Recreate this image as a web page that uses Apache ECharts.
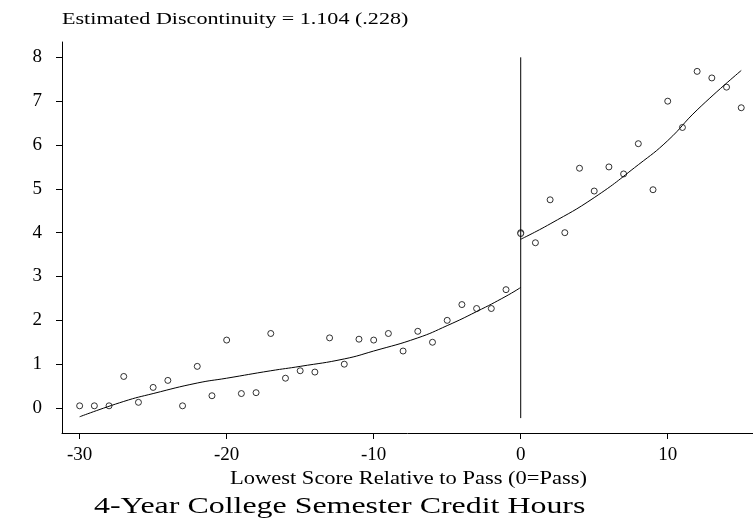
<!DOCTYPE html>
<html><head><meta charset="utf-8">
<script src="https://cdn.jsdelivr.net/npm/echarts@6/dist/echarts.min.js"></script>
<style>body{margin:0;background:#fff}#c{width:753px;height:521px}</style>
</head><body><div id="c"></div>
<script>
var xs = [-30,-29,-28,-27,-26,-25,-24,-23,-22,-21,-20,-19,-18,-17,-16,-15,-14,-13,-12,-11,-10,-9,-8,-7,-6,-5,-4,-3,-2,-1,0,0,1,2,3,4,5,6,7,8,9,10,11,12,13,14,15];
var ys = [0.05,0.05,0.05,0.72,0.13,0.47,0.63,0.05,0.95,0.28,1.55,0.33,0.35,1.7,0.68,0.85,0.82,1.6,1.0,1.57,1.55,1.7,1.3,1.75,1.5,2.0,2.36,2.27,2.27,2.7,4.0,3.98,3.77,4.75,4.0,5.47,4.95,5.5,5.34,6.03,4.98,7.0,6.4,7.68,7.53,7.32,6.85];
var fitLeft = [[-30,-0.2],[-27,0.15],[-25,0.33],[-22,0.57],[-20,0.68],[-17,0.85],[-15,0.95],[-12,1.12],[-10,1.3],[-7,1.6],[-5,1.88],[-3,2.2],[-1,2.55],[0,2.75]];
var fitRight = [[0,3.85],[2,4.2],[5,4.8],[8,5.55],[10,6.1],[12,6.8],[15,7.7]];
var cutLine = [[0,-0.23],[0,8]];
var xTicks = [-30,-20,-10,0,10];
var yTicks = [0,1,2,3,4,5,6,7,8];

var pts = xs.map(function(x,i){return [x,ys[i]];});
var font = 'Liberation Serif';
function label(txt, x, y, size, sx) {
  return {type:'text',x:x,y:y,scaleX:sx,
    style:{text:txt,font:size+'px '+font,fill:'#000',textAlign:'left',textVerticalAlign:'middle'}};
}
var chart = echarts.init(document.getElementById('c'));
chart.setOption({
  animation:false,
  textStyle:{fontFamily:font,color:'#000'},
  graphic:[
    label('Estimated Discontinuity = 1.104 (.228)', 62, 20, 17, 1.3),
    label('Lowest Score Relative to Pass (0=Pass)', 230, 479, 18, 1.25),
    label('4-Year College Semester Credit Hours', 94, 507, 24, 1.33)
  ],
  grid:{left:62,right:0,top:42,bottom:88},
  xAxis:{type:'value',min:-31.2,max:15.8,
    axisLine:{onZero:false,lineStyle:{color:'#000'}},splitLine:{show:false},
    axisTick:{customValues:xTicks,length:6,lineStyle:{color:'#000'}},
    axisLabel:{customValues:xTicks,fontFamily:font,fontSize:19,color:'#000',margin:13}},
  yAxis:{type:'value',min:-0.57,max:8.35,
    axisLine:{show:true,onZero:false,lineStyle:{color:'#000'}},splitLine:{show:false},
    axisTick:{customValues:yTicks,length:6,lineStyle:{color:'#000'}},
    axisLabel:{customValues:yTicks,fontFamily:font,fontSize:19,color:'#000',margin:20}},
  series:[
    {type:'scatter',data:pts,symbol:'circle',symbolSize:6,itemStyle:{color:'#fff',borderColor:'#000',borderWidth:1}},
    {type:'line',data:fitLeft,smooth:true,symbol:'none',lineStyle:{color:'#000',width:1}},
    {type:'line',data:fitRight,smooth:true,symbol:'none',lineStyle:{color:'#000',width:1}},
    {type:'line',data:cutLine,symbol:'none',lineStyle:{color:'#000',width:1}}
  ]
});
</script></body></html>
